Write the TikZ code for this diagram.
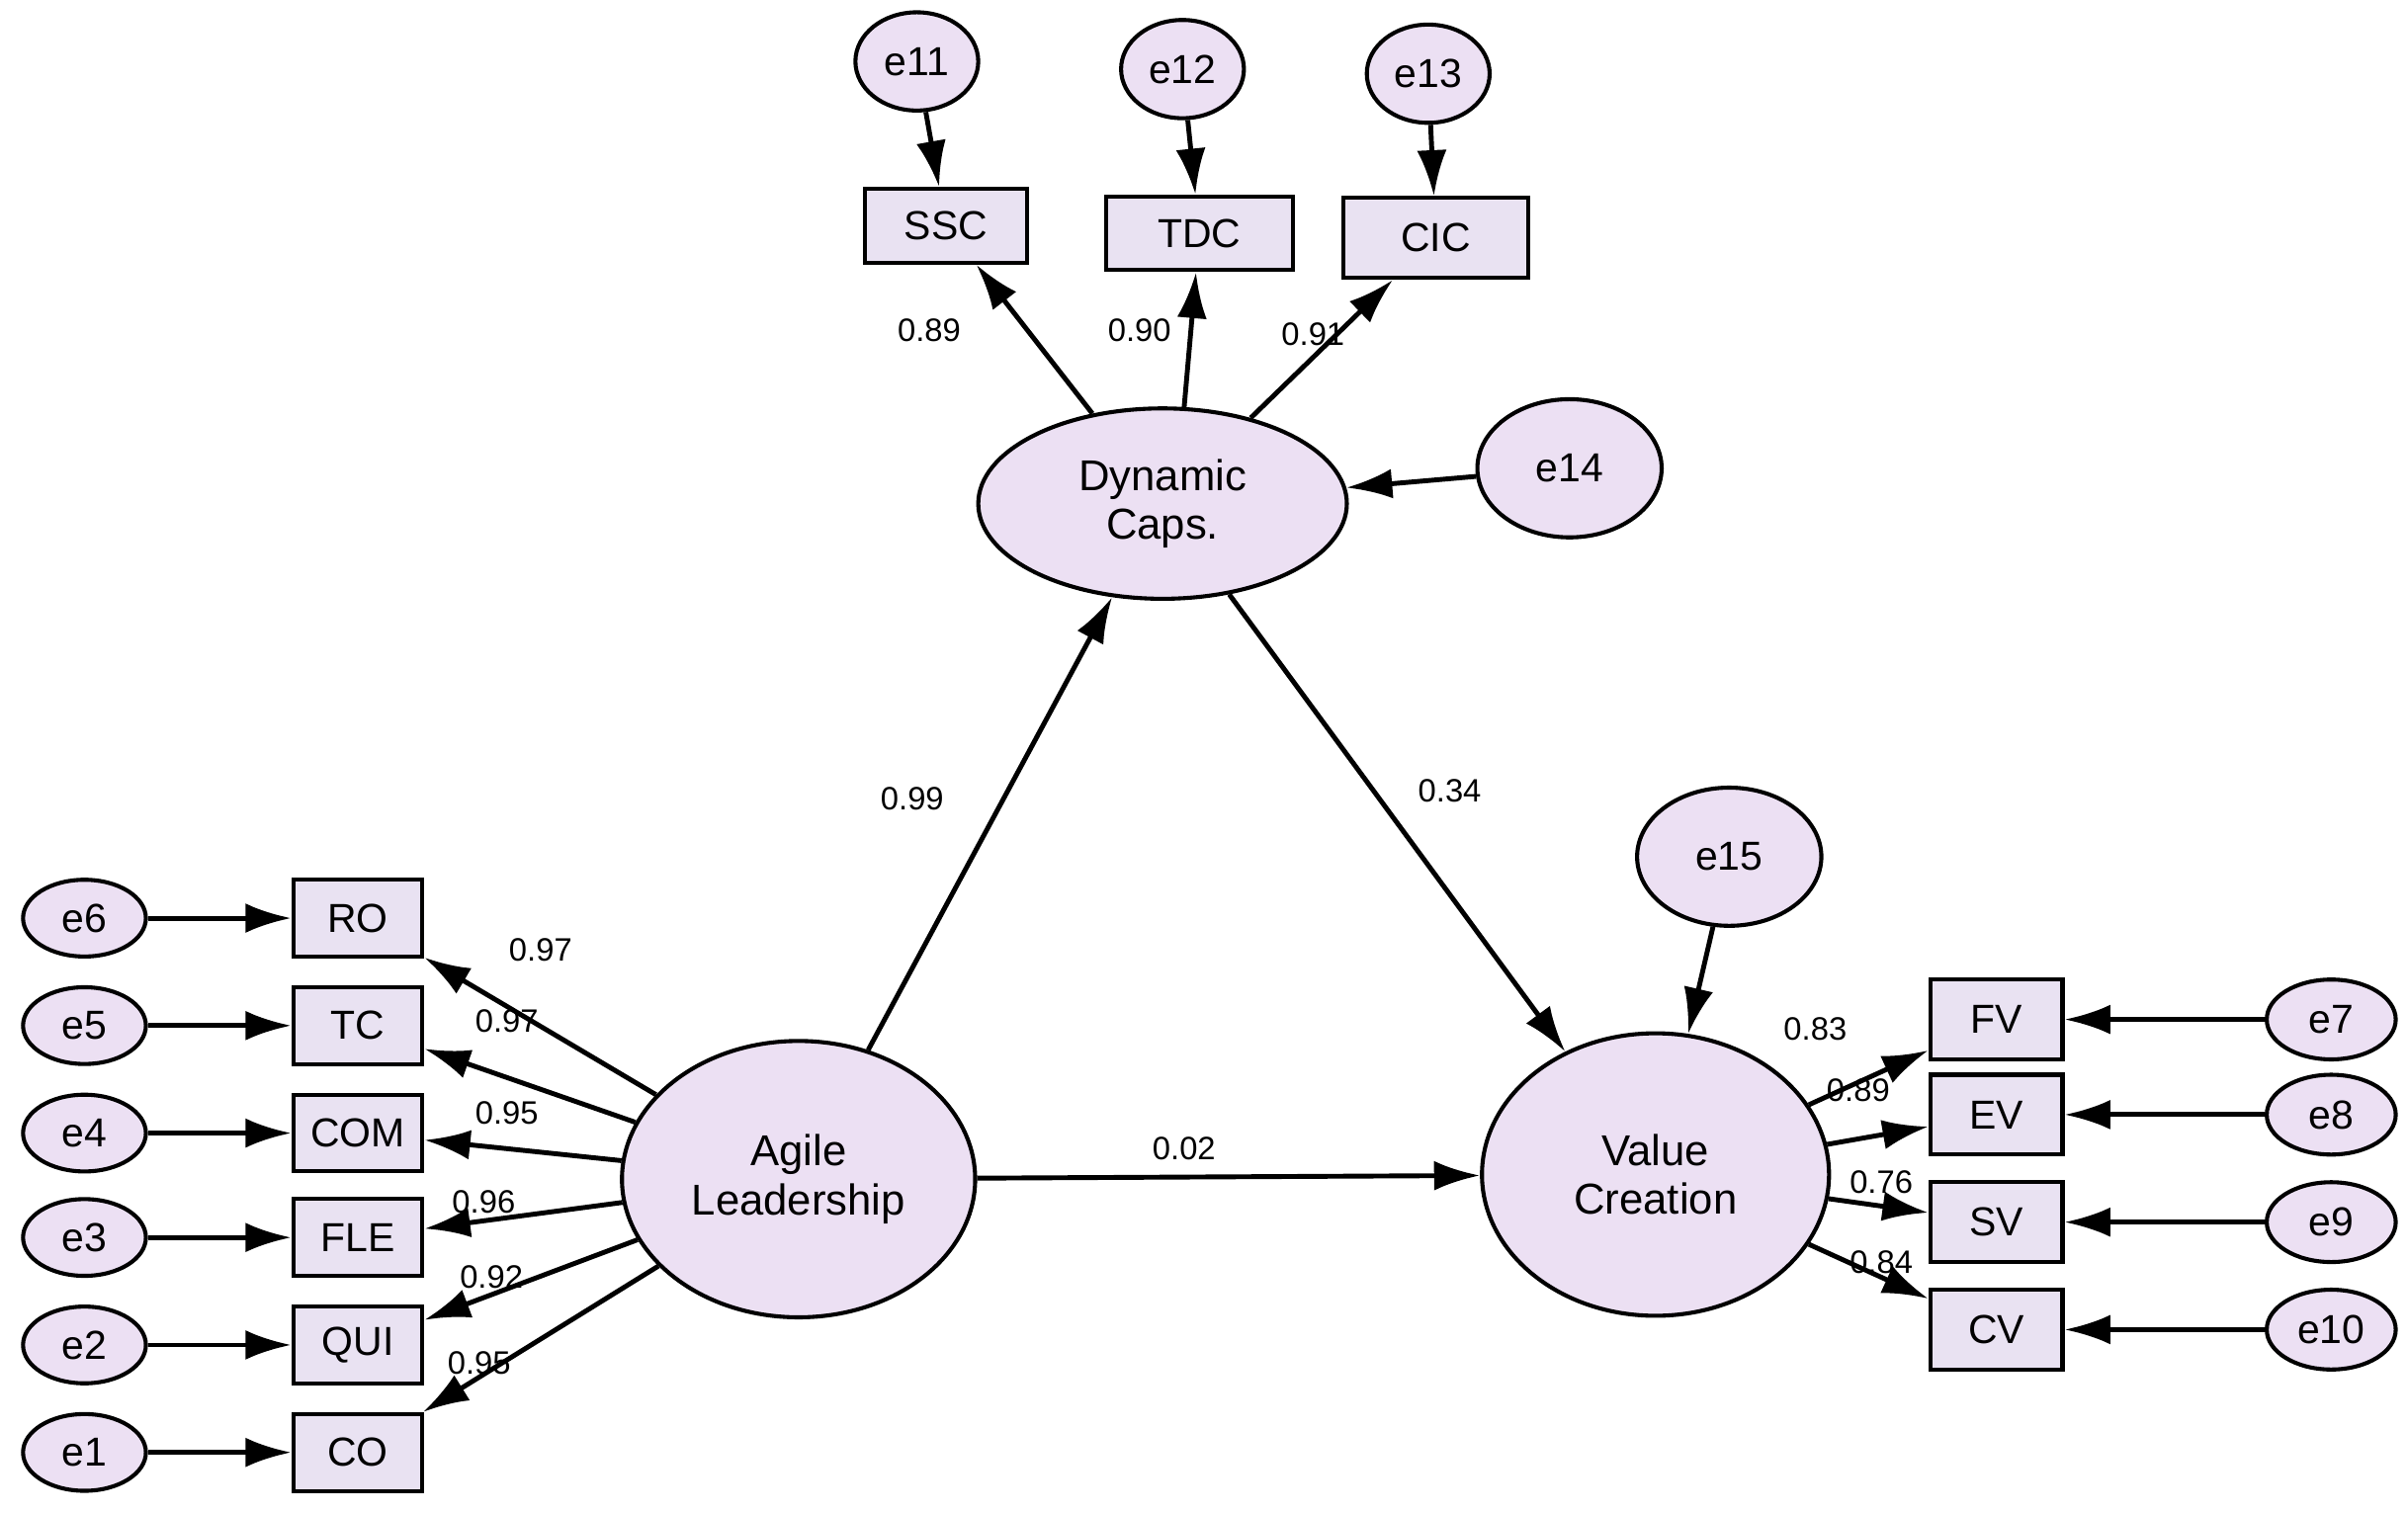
\documentclass[tikz,border=0pt]{standalone}
\usepackage{fontspec}
\setmainfont{Liberation Sans}
\usetikzlibrary{arrows.meta,shapes.geometric}
\definecolor{lat}{RGB}{236,224,243}
\definecolor{obs}{RGB}{233,226,242}
\begin{document}
\begin{tikzpicture}[x=0.2mm,y=-0.2mm,
 every node/.style={font=\fontsize{15}{17}\selectfont},
 err/.style={ellipse,draw,line width=1.5pt,fill=lat,minimum width=80*0.2mm,minimum height=50*0.2mm,inner sep=0pt},
 big/.style={ellipse,draw,line width=1.5pt,fill=lat,align=center,inner sep=0pt,font=\fontsize{16}{18}\selectfont},
 box/.style={rectangle,draw,line width=1.5pt,fill=obs,minimum height=48*0.2mm,inner sep=0pt},
 ar/.style={line width=1.8pt,-{Latex[length=17pt,width=11pt]}},
 lab/.style={font=\fontsize{12}{14}\selectfont}]
\useasboundingbox (0,0) rectangle (1568,985);
% latent
\node[big,minimum width=240*0.2mm,minimum height=124*0.2mm] (dc) at (757,328) {Dynamic\\Caps.};
\node[big,minimum width=230*0.2mm,minimum height=180*0.2mm] (al) at (520,768) {Agile\\Leadership};
\node[big,minimum width=226*0.2mm,minimum height=184*0.2mm] (vc) at (1078,765) {Value\\Creation};
% top
\node[err,minimum height=64*0.2mm] (e11) at (597,40) {e11};
\node[err,minimum height=64*0.2mm] (e12) at (770,45) {e12};
\node[err,minimum height=64*0.2mm] (e13) at (930,48) {e13};
\node[box,minimum width=106*0.2mm] (ssc) at (616,147) {SSC};
\node[box,minimum width=122*0.2mm] (tdc) at (781,152) {TDC};
\node[box,minimum width=120*0.2mm,minimum height=52*0.2mm] (cic) at (935,155) {CIC};
\node[err,minimum width=120*0.2mm,minimum height=90*0.2mm] (e14) at (1022,305) {e14};
\node[err,minimum width=120*0.2mm,minimum height=90*0.2mm] (e15) at (1126,558) {e15};
% left
\foreach \n/\b/\y in {6/RO/598,5/TC/668,4/COM/738,3/FLE/806,2/QUI/876,1/CO/946}{
 \node[err] (e\n) at (55,\y) {e\n};
 \node[box,minimum width=84*0.2mm,minimum height=50*0.2mm] (\b) at (233,\y) {\b};
 \draw[ar] (e\n) -- (\b);
 \draw[ar] (al) -- (\b);
}
% right
\foreach \n/\b/\y in {7/FV/664,8/EV/726,9/SV/796,10/CV/866}{
 \node[err,minimum width=84*0.2mm,minimum height=52*0.2mm] (e\n) at (1518,\y) {e\n};
 \node[box,minimum width=86*0.2mm,minimum height=52*0.2mm] (\b) at (1300,\y) {\b};
 \draw[ar] (e\n) -- (\b);
 \draw[ar] (vc) -- (\b);
}
\draw[ar] (e11) -- (ssc);
\draw[ar] (e12) -- (tdc);
\draw[ar] (e13) -- (cic);
\draw[ar] (dc) -- (ssc);
\coordinate (dtop) at (771,266);
\draw[ar] (dtop) -- (tdc);
\draw[ar] (dc) -- (cic);
\draw[ar] (e14) -- (dc);
\draw[ar] (e15) -- (vc);
\draw[ar] (al) -- (dc);
\draw[ar] (dc) -- (vc);
\draw[ar] (al) -- (vc);
% labels
\foreach \t/\x/\y in {0.89/605/215,0.90/742/215,0.91/855/218,0.99/594/520,0.34/944/515,0.02/771/748,
 0.97/352/619,0.97/330/665,0.95/330/725,0.96/315/783,0.92/320/832,0.95/312/888,
 0.83/1182/670,0.89/1210/710,0.76/1225/770,0.84/1225/822}
 \node[lab] at (\x,\y) {\t};
\end{tikzpicture}
\end{document}
